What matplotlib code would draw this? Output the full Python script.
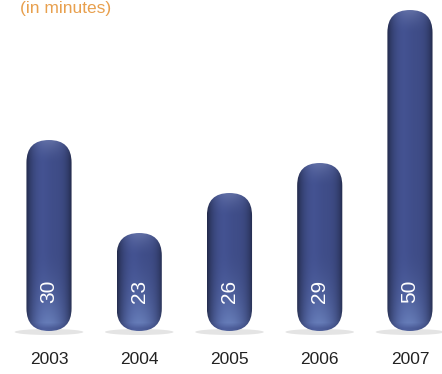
import matplotlib
matplotlib.use("Agg")
import matplotlib.pyplot as plt
import numpy as np
from matplotlib.patches import FancyBboxPatch, Ellipse

years = ['2003', '2004', '2005', '2006', '2007']
minutes = [30, 23, 26, 29, 50]
# drawn bar heights as they appear in the picture (the scale is not linear)
bar_heights = [191, 98, 138, 168, 321]

plt.rcParams['font.family'] = ['Liberation Sans', 'DejaVu Sans']

fig = plt.figure(figsize=(4.42, 3.74), dpi=100)
ax = fig.add_axes([0, 0, 1, 1])
ax.set_xlim(-0.543, 4.355)
ax.set_ylim(-43, 331)
ax.axis('off')

bar_w = 0.5
x_scale = 90.25  # pixels per category, y unit is ~1 px

base = np.array([0x3f, 0x4d, 0x88]) / 255.0
glow = np.array([0x80, 0x9c, 0xd6]) / 255.0
top_hi = np.array([0x7a, 0x88, 0xb8]) / 255.0


def bar_image(h, nx=60):
    ny = max(int(h), 2)
    u = np.linspace(-1, 1, nx)[None, :]
    yy = np.linspace(h, 0, ny)[:, None]  # top row first
    img = np.ones((ny, nx, 3)) * base
    # horizontal shading: darker edges, slight light band left of centre
    shade = 1 - 0.45 * np.abs(u) ** 4 + 0.07 * np.exp(-((u + 0.3) / 0.35) ** 2)
    img = img * shade[..., None]
    # top highlight on the cap
    t = np.clip(1 - (h - yy) / 22.0, 0, 1) ** 1.5
    t = t * np.exp(-(u / 0.7) ** 2)
    img = img * (1 - 0.55 * t[..., None]) + top_hi * 0.55 * t[..., None]
    # bottom glow
    g = np.clip(1 - yy / 80.0, 0, 1) ** 1.8 * np.exp(-(u / 0.7) ** 2)
    g = g * np.clip(yy / 8.0, 0.3, 1)
    img = img * (1 - 0.7 * g[..., None]) + glow * 0.7 * g[..., None]
    return np.clip(img, 0, 1)


for i, (yr, val, h) in enumerate(zip(years, minutes, bar_heights)):
    # floor shadow
    ax.add_patch(Ellipse((i, -1), 0.76, 6, color='#e4e4e4', zorder=1, lw=0))
    patch = FancyBboxPatch((i - bar_w / 2, 0), bar_w, h,
                           boxstyle="round,pad=0,rounding_size=0.25",
                           mutation_aspect=x_scale,
                           fc='none', ec='none', zorder=2)
    ax.add_patch(patch)
    im = ax.imshow(bar_image(h), extent=[i - bar_w / 2, i + bar_w / 2, 0, h],
                   aspect='auto', zorder=3, interpolation='bilinear')
    im.set_clip_path(patch)
    ax.text(i, 40, str(val), rotation=90, color='white', fontsize=15,
            ha='center', va='center', zorder=4)
    ax.text(i, -29, yr, color='#222222', fontsize=12.5,
            ha='center', va='center')

fig.text(20 / 442, 1 - 13 / 374, '(in minutes)', color='#e8a04e',
         fontsize=12.5, ha='left', va='baseline')

fig.savefig('out.png', dpi=100, facecolor='white')
